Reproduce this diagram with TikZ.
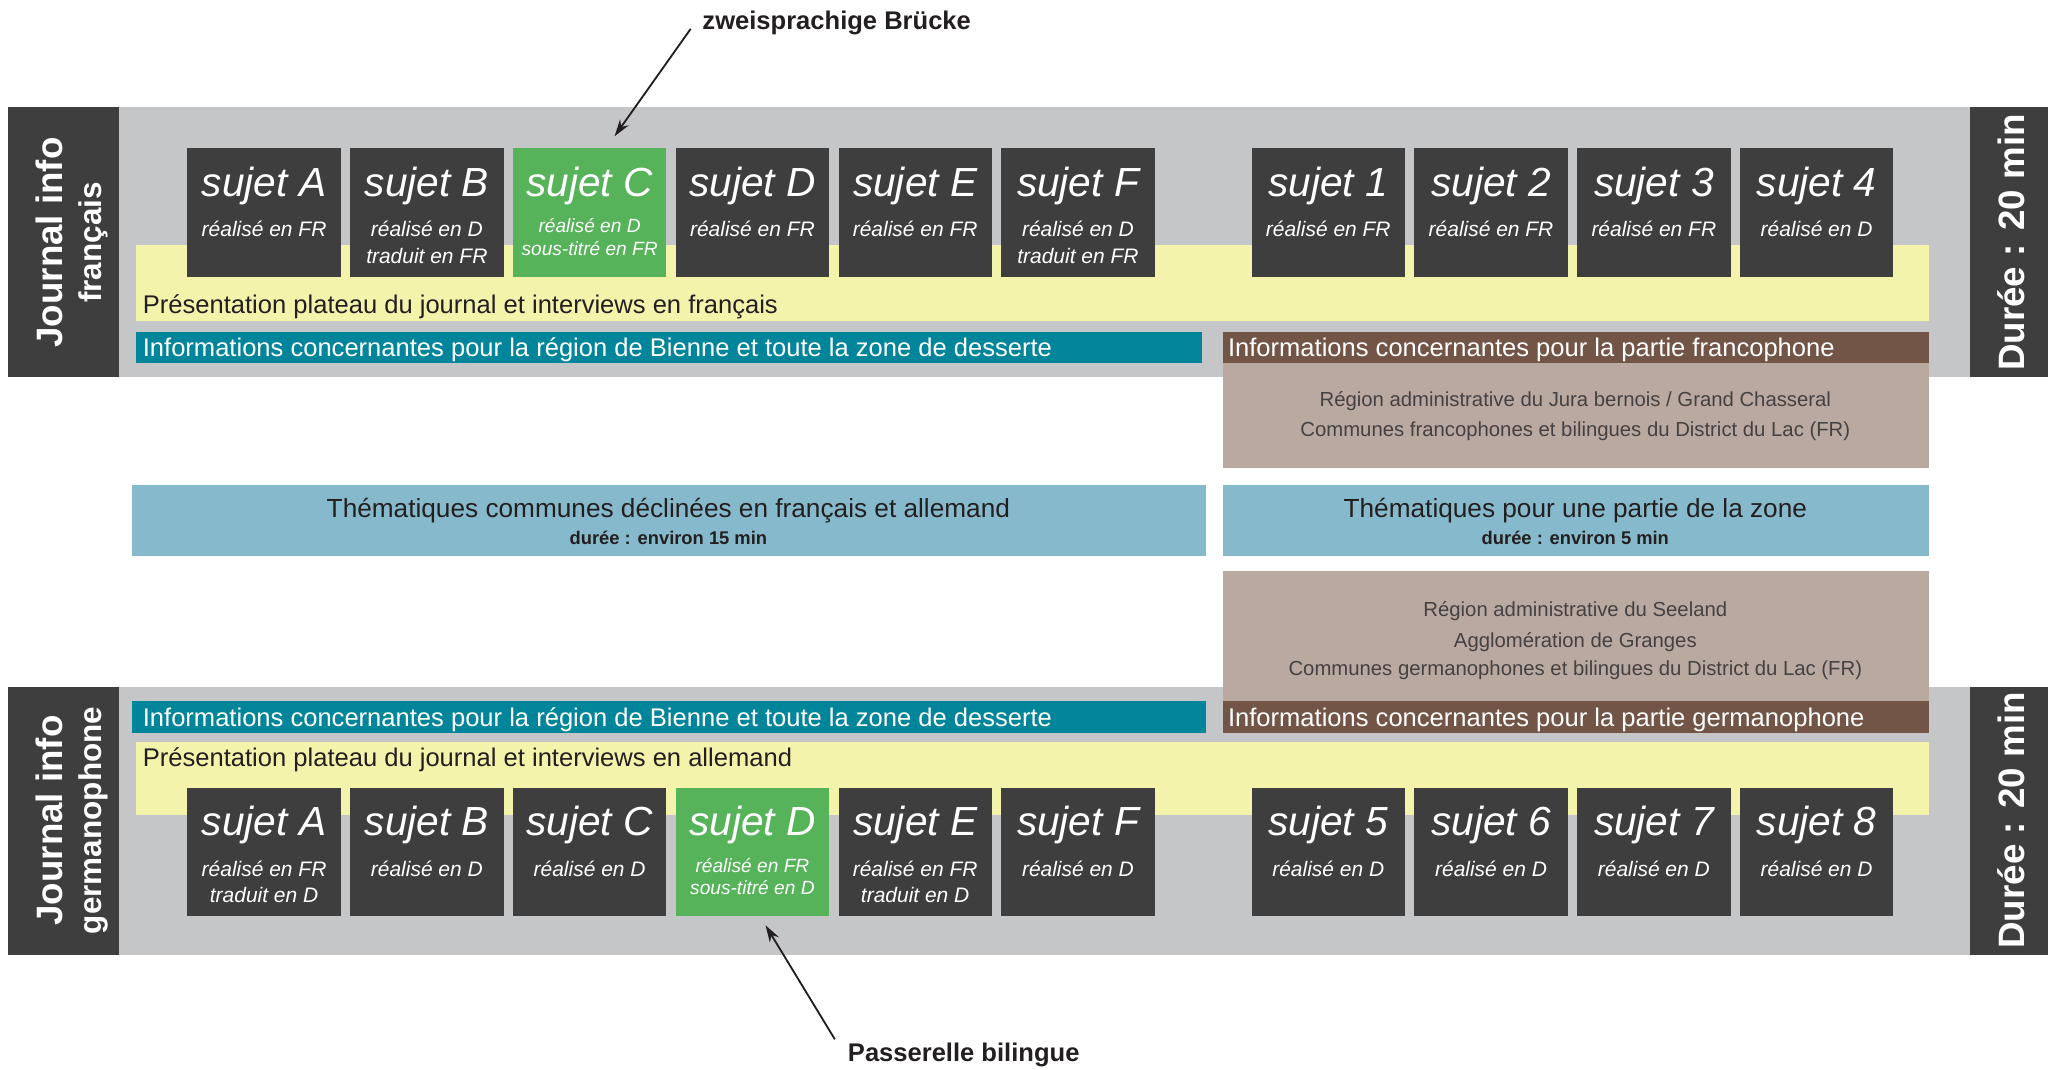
\documentclass[tikz,border=0pt]{standalone}
\usepackage{fontspec}
\setmainfont{Liberation Sans}
\usetikzlibrary{calc,arrows.meta}
\definecolor{bandgray}{HTML}{C5C6C8}
\definecolor{darkpanel}{HTML}{3E3E3E}
\definecolor{sgreen}{HTML}{56B35A}
\definecolor{byellow}{HTML}{F3F3AB}
\definecolor{bteal}{HTML}{00859B}
\definecolor{bbrown}{HTML}{725546}
\definecolor{lbrown}{HTML}{BAA9A0}
\definecolor{lblue}{HTML}{86B9CB}
\definecolor{txtdark}{HTML}{231F20}
\newcommand\rectnode[6]{%
  \node[rectbase,#2,minimum width={#5pt-#3pt},minimum height={#6pt-#4pt}] (#1) at ({(#3+#5)/2},{(#4+#6)/2}) {};}
\newcommand\sujbox[4]{% name, x, y, fill
  \node[sbox,fill=#4,anchor=north west] (#1) at (#2,#3) {};}
\begin{document}
\begin{tikzpicture}[x=1pt,y=-1pt,
  rectbase/.style={draw=none,inner sep=0pt,outer sep=0pt,rectangle},
  txt/.style={inner sep=0pt,outer sep=0pt,text height=1.2em,text depth=0.16em},
  rtxt/.style={inner sep=0pt,outer sep=0pt,text height=0.72em,text depth=0.18em,rotate=90},
  sbox/.style={rectbase,minimum width=117pt,minimum height=98pt},
  stitle/.style={txt,text=white,font=\fontsize{31}{36}\selectfont\itshape},
  ssub/.style={txt,text=white,font=\fontsize{16}{19}\selectfont\itshape},
  gsub/.style={txt,text=white,font=\fontsize{14.6}{17}\selectfont\itshape},
  bandtxt/.style={txt,anchor=west,font=\fontsize{19.5}{23}\selectfont},
  areatxt/.style={txt,text=txtdark!85,font=\fontsize{15.5}{18}\selectfont},
  lefttitle/.style={rtxt,text=white,font=\fontsize{28}{32}\selectfont\bfseries},
  leftsub/.style={rtxt,text=white,font=\fontsize{24}{28}\selectfont\bfseries},
  callout/.style={txt,anchor=west,text=txtdark,font=\fontsize{19.5}{23}\selectfont\bfseries},
  conn/.style={draw=txtdark,line width=1.4pt,-{Stealth[length=13pt,width=8pt]}}
]
\useasboundingbox (0,0) rectangle (1568,816);
\fill[white] (0,0) rectangle (1568,816);

% ---------- top band ----------
\rectnode{gTop}{fill=bandgray}{91}{82}{1503}{288}
\rectnode{lpTop}{fill=darkpanel}{6}{82}{91}{288}
\rectnode{rpTop}{fill=darkpanel}{1503}{82}{1563}{288}
\node[lefttitle] (lpTopA) at (45,185) {Journal info};
\node[leftsub] (lpTopB) at (75,185) {français};
\node[lefttitle] (rpTopA) at (1542,185) {Durée : 20 min};

\rectnode{yTop}{fill=byellow}{104}{187}{1472}{245}
\node[bandtxt,text=txtdark] (yTopT) at (109,234) {Présentation plateau du journal et interviews en français};
\rectnode{tTop}{fill=bteal}{104}{253}{917}{277}
\node[bandtxt,text=white] (tTopT) at (109,267) {Informations concernantes pour la région de Bienne et toute la zone de desserte};
\rectnode{bTop}{fill=bbrown}{933}{253}{1472}{277}
\node[bandtxt,text=white] (bTopT) at (937,267) {Informations concernantes pour la partie francophone};
\rectnode{lbTop}{fill=lbrown}{933}{277}{1472}{357}
\node[areatxt] (lbTop1) at (1202,305) {Région administrative du Jura bernois / Grand Chasseral};
\node[areatxt] (lbTop2) at (1202,328) {Communes francophones et bilingues du District du Lac (FR)};

% top subjects
\sujbox{tA}{143}{113}{darkpanel}
\sujbox{tB}{267.2}{113}{darkpanel}
\sujbox{tC}{391.4}{113}{sgreen}
\sujbox{tD}{515.6}{113}{darkpanel}
\sujbox{tE}{639.8}{113}{darkpanel}
\sujbox{tF}{764}{113}{darkpanel}
\sujbox{t1}{955}{113}{darkpanel}
\sujbox{t2}{1079.2}{113}{darkpanel}
\sujbox{t3}{1203.4}{113}{darkpanel}
\sujbox{t4}{1327.6}{113}{darkpanel}
\foreach \n/\l in {tA/A,tB/B,tC/C,tD/D,tE/E,tF/F,t1/1,t2/2,t3/3,t4/4}{
  \node[stitle] (\n T) at ($(\n.north)+(0,31.5)$) {sujet \l};}
\node[ssub] (tAs) at ($(tA.north)+(0,62.5)$) {réalisé en FR};
\node[ssub] (tBs) at ($(tB.north)+(0,62.5)$) {réalisé en D};
\node[ssub] (tBu) at ($(tB.north)+(0,82.5)$) {traduit en FR};
\node[gsub] (tCs) at ($(tC.north)+(0,59.5)$) {réalisé en D};
\node[gsub] (tCu) at ($(tC.north)+(0,76.5)$) {sous-titré en FR};
\node[ssub] (tDs) at ($(tD.north)+(0,62.5)$) {réalisé en FR};
\node[ssub] (tEs) at ($(tE.north)+(0,62.5)$) {réalisé en FR};
\node[ssub] (tFs) at ($(tF.north)+(0,62.5)$) {réalisé en D};
\node[ssub] (tFu) at ($(tF.north)+(0,82.5)$) {traduit en FR};
\node[ssub] (t1s) at ($(t1.north)+(0,62.5)$) {réalisé en FR};
\node[ssub] (t2s) at ($(t2.north)+(0,62.5)$) {réalisé en FR};
\node[ssub] (t3s) at ($(t3.north)+(0,62.5)$) {réalisé en FR};
\node[ssub] (t4s) at ($(t4.north)+(0,62.5)$) {réalisé en D};

% ---------- middle ----------
\rectnode{thA}{fill=lblue}{101}{370}{920}{424}
\node[txt,text=txtdark,font=\fontsize{20}{24}\selectfont] (thA1) at (510,390) {Thématiques communes déclinées en français et allemand};
\node[txt,text=txtdark,font=\fontsize{14}{17}\selectfont\bfseries] (thA2) at (510,410) {durée : environ 15 min};
\rectnode{thB}{fill=lblue}{933}{370}{1472}{424}
\node[txt,text=txtdark,font=\fontsize{20}{24}\selectfont] (thB1) at (1202,390) {Thématiques pour une partie de la zone};
\node[txt,text=txtdark,font=\fontsize{14}{17}\selectfont\bfseries] (thB2) at (1202,410) {durée : environ 5 min};

% ---------- bottom band ----------
\rectnode{gBot}{fill=bandgray}{91}{524}{1503}{729}
\rectnode{lpBot}{fill=darkpanel}{6}{524}{91}{729}
\rectnode{rpBot}{fill=darkpanel}{1503}{524}{1563}{729}
\node[lefttitle] (lpBotA) at (45,626) {Journal info};
\node[leftsub] (lpBotB) at (75,626) {germanophone};
\node[lefttitle] (rpBotA) at (1542,626) {Durée : 20 min};

\rectnode{lbBot}{fill=lbrown}{933}{436}{1472}{535}
\node[areatxt] (lbBot1) at (1202,465.5) {Région administrative du Seeland};
\node[areatxt] (lbBot2) at (1202,488.5) {Agglomération de Granges};
\node[areatxt] (lbBot3) at (1202,510.5) {Communes germanophones et bilingues du District du Lac (FR)};
\rectnode{tBot}{fill=bteal}{101}{535}{920}{559}
\node[bandtxt,text=white] (tBotT) at (109,549) {Informations concernantes pour la région de Bienne et toute la zone de desserte};
\rectnode{bBot}{fill=bbrown}{933}{535}{1472}{559}
\node[bandtxt,text=white] (bBotT) at (937,549) {Informations concernantes pour la partie germanophone};
\rectnode{yBot}{fill=byellow}{104}{566}{1472}{622}
\node[bandtxt,text=txtdark] (yBotT) at (109,580) {Présentation plateau du journal et interviews en allemand};

% bottom subjects
\sujbox{bA}{143}{601}{darkpanel}
\sujbox{bB}{267.2}{601}{darkpanel}
\sujbox{bC}{391.4}{601}{darkpanel}
\sujbox{bD}{515.6}{601}{sgreen}
\sujbox{bE}{639.8}{601}{darkpanel}
\sujbox{bF}{764}{601}{darkpanel}
\sujbox{b5}{955}{601}{darkpanel}
\sujbox{b6}{1079.2}{601}{darkpanel}
\sujbox{b7}{1203.4}{601}{darkpanel}
\sujbox{b8}{1327.6}{601}{darkpanel}
\foreach \n/\l in {bA/A,bB/B,bC/C,bD/D,bE/E,bF/F,b5/5,b6/6,b7/7,b8/8}{
  \node[stitle] (\n T) at ($(\n.north)+(0,31.5)$) {sujet \l};}
\node[ssub] (bAs) at ($(bA.north)+(0,62.5)$) {réalisé en FR};
\node[ssub] (bAu) at ($(bA.north)+(0,82.5)$) {traduit en D};
\node[ssub] (bBs) at ($(bB.north)+(0,62.5)$) {réalisé en D};
\node[ssub] (bCs) at ($(bC.north)+(0,62.5)$) {réalisé en D};
\node[gsub] (bDs) at ($(bD.north)+(0,59.5)$) {réalisé en FR};
\node[gsub] (bDu) at ($(bD.north)+(0,76.5)$) {sous-titré en D};
\node[ssub] (bEs) at ($(bE.north)+(0,62.5)$) {réalisé en FR};
\node[ssub] (bEu) at ($(bE.north)+(0,82.5)$) {traduit en D};
\node[ssub] (bFs) at ($(bF.north)+(0,62.5)$) {réalisé en D};
\node[ssub] (b5s) at ($(b5.north)+(0,62.5)$) {réalisé en D};
\node[ssub] (b6s) at ($(b6.north)+(0,62.5)$) {réalisé en D};
\node[ssub] (b7s) at ($(b7.north)+(0,62.5)$) {réalisé en D};
\node[ssub] (b8s) at ($(b8.north)+(0,62.5)$) {réalisé en D};

% ---------- callouts ----------
\node[callout] (zb) at (536,17) {zweisprachige Brücke};
\coordinate (zbTip) at ($(tC.north)+(19,-9)$);
\draw[conn] ($(zb.west)+(-9,5)$) -- (zbTip);
\node[callout] (pb) at (647,805) {Passerelle bilingue};
\coordinate (pbTip) at ($(bD.south)+(10,7)$);
\draw[conn] ($(pb.west)+(-10,-12)$) -- (pbTip);
\end{tikzpicture}
\end{document}
